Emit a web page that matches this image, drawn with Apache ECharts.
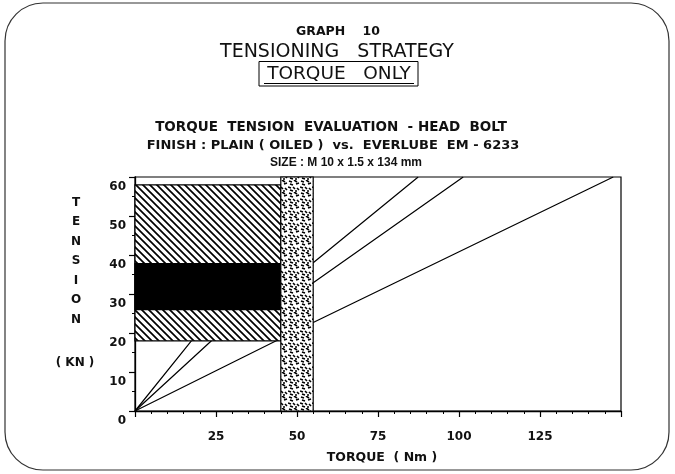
<!DOCTYPE html>
<html>
<head>
<meta charset="utf-8">
<script src="https://cdn.jsdelivr.net/npm/echarts@6/dist/echarts.min.js"></script>
<style>html,body{margin:0;padding:0;background:#fff}#c{width:675px;height:474px}</style>
</head>
<body>
<div id="c"></div>
<script>
// ---- data ----
var xTicks = [25, 50, 75, 100, 125];
var yTicks = [0, 10, 20, 30, 40, 50, 60];
// lines: torque (Nm), tension (kN)
var lineA = [[0, 0], [17.4, 18], [55, 38.0], [87.4, 60]];
var lineB = [[0, 0], [23.6, 18], [55, 32.9], [101.3, 60]];
var lineC = [[0, 0], [43.6, 18], [55, 22.7], [147.6, 60]];
// regions: [torqueFrom, tensionFrom, torqueTo, tensionTo]
var hatchRegion = [0, 18, 45, 58];
var blackBand = [0, 26, 45, 37.8];
var speckleBand = [45, 0, 55, 60];

// ---- patterns (styling only) ----
function hatchPattern() {
  var c = document.createElement('canvas');
  c.width = 7; c.height = 7;
  var g = c.getContext('2d');
  g.fillStyle = '#fff'; g.fillRect(0, 0, 7, 7);
  g.strokeStyle = '#000'; g.lineWidth = 1.7;
  g.beginPath();
  g.moveTo(-2, -2); g.lineTo(9, 9);
  g.moveTo(-2, 5); g.lineTo(2, 9);
  g.moveTo(5, -2); g.lineTo(9, 2);
  g.stroke();
  return c;
}
function specklePattern() {
  var c = document.createElement('canvas');
  c.width = 12; c.height = 12;
  var g = c.getContext('2d');
  g.fillStyle = '#fff'; g.fillRect(0, 0, 12, 12);
  g.strokeStyle = '#000'; g.lineWidth = 1.6;
  var marks = [[1,1,4,2],[6,0,9,2],[2,4,5,5],[8,4,11,3],[0,7,3,8],[5,7,7,9],[9,8,11,10],[2,10,5,11],[7,11,9,11]];
  g.beginPath();
  marks.forEach(function (m) { g.moveTo(m[0], m[1]); g.lineTo(m[2], m[3]); });
  g.stroke();
  return c;
}
var hatchFill = { image: hatchPattern(), repeat: 'repeat' };
var speckleFill = { image: specklePattern(), repeat: 'repeat' };

function rectSeries(region, fill, stroke, z) {
  return {
    type: 'custom', z: z, silent: true,
    data: [region],
    renderItem: function (params, api) {
      var p0 = api.coord([api.value(0), api.value(1)]);
      var p1 = api.coord([api.value(2), api.value(3)]);
      return {
        type: 'rect',
        shape: { x: Math.min(p0[0], p1[0]), y: Math.min(p0[1], p1[1]), width: Math.abs(p1[0] - p0[0]), height: Math.abs(p1[1] - p0[1]) },
        style: { fill: fill, stroke: stroke, lineWidth: 1.2 }
      };
    }
  };
}
function lineSeries(d) {
  return { type: 'line', data: d, symbol: 'none', z: 1, silent: true,
    lineStyle: { color: '#000', width: 1.2 } };
}

var font = '"DejaVu Sans", Arial, sans-serif';
var arial = 'Arial, "Liberation Sans", sans-serif';
var chart = echarts.init(document.getElementById('c'), null, { renderer: 'canvas' });
chart.setOption({
  animation: false,
  backgroundColor: '#fff',
  grid: { left: 135, right: 54, top: 177, bottom: 63, show: true, borderColor: '#000', borderWidth: 1.2 },
  xAxis: {
    type: 'value', min: 0, max: 150, interval: 25,
    name: 'TORQUE  ( Nm )', nameLocation: 'middle', nameGap: 40,
    nameTextStyle: { fontFamily: font, fontSize: 12.5, fontWeight: 'bold', color: '#111', padding: [0, 0, 0, 8] },
    axisLine: { lineStyle: { color: '#000', width: 1.3 } },
    axisTick: { length: 6, lineStyle: { color: '#000', width: 1.2 } },
    minorTick: { show: true, splitNumber: 5, length: 3, lineStyle: { color: '#000', width: 1 } },
    splitLine: { show: false },
    axisLabel: { margin: 20, fontFamily: font, fontSize: 12, fontWeight: 'bold', color: '#111',
      formatter: function (v) { return xTicks.indexOf(v) >= 0 ? String(v) : ''; } }
  },
  yAxis: {
    type: 'value', min: 0, max: 60, interval: 10,
    axisLine: { show: true, lineStyle: { color: '#000', width: 1.3 } },
    axisTick: { show: true, length: 6, lineStyle: { color: '#000', width: 1.2 } },
    minorTick: { show: true, splitNumber: 2, length: 3, lineStyle: { color: '#000', width: 1 } },
    splitLine: { show: false },
    axisLabel: { margin: 9, verticalAlign: 'top', padding: [4, 0, 0, 0], fontFamily: font, fontSize: 12, fontWeight: 'bold', color: '#111',
      formatter: function (v) { return yTicks.indexOf(v) >= 0 ? String(v) : ''; } }
  },
  series: [
    lineSeries(lineA), lineSeries(lineB), lineSeries(lineC),
    rectSeries(hatchRegion, hatchFill, '#000', 3),
    rectSeries(blackBand, '#000', '#000', 4),
    rectSeries(speckleBand, speckleFill, '#000', 5)
  ],
  graphic: [
    { type: 'rect', shape: { x: 5, y: 3, width: 664, height: 467, r: 38 }, style: { fill: 'none', stroke: '#333', lineWidth: 1.2 }, silent: true },
    { type: 'text', x: 338, y: 32, style: { text: 'GRAPH    10', font: 'bold 12.5px ' + font, fill: '#111', align: 'center', verticalAlign: 'middle' } },
    { type: 'text', x: 337, y: 52, style: { text: 'TENSIONING   STRATEGY', font: '19px ' + font, fill: '#111', align: 'center', verticalAlign: 'middle' } },
    { type: 'rect', shape: { x: 259, y: 61.5, width: 159, height: 24.5 }, style: { fill: 'none', stroke: '#000', lineWidth: 1 } },
    { type: 'text', x: 339, y: 74, style: { text: 'TORQUE   ONLY', font: '18.5px ' + font, fill: '#111', align: 'center', verticalAlign: 'middle' } },
    { type: 'line', shape: { x1: 264, y1: 83.5, x2: 414, y2: 83.5 }, style: { stroke: '#000', lineWidth: 1 } },
    { type: 'text', x: 331, y: 127, style: { text: 'TORQUE  TENSION  EVALUATION  - HEAD  BOLT', font: 'bold 13.5px ' + font, fill: '#111', align: 'center', verticalAlign: 'middle' } },
    { type: 'text', x: 333, y: 146, style: { text: 'FINISH : PLAIN ( OILED )  vs.  EVERLUBE  EM - 6233', font: 'bold 13px ' + font, fill: '#111', align: 'center', verticalAlign: 'middle' } },
    { type: 'text', x: 346, y: 163, style: { text: 'SIZE : M 10 x 1.5 x 134 mm', font: 'bold 12px ' + arial, fill: '#111', align: 'center', verticalAlign: 'middle' } },
    { type: 'text', x: 76, y: 193, style: { text: 'T\nE\nN\nS\nI\nO\nN', font: 'bold 12px ' + font, fill: '#111', align: 'center', verticalAlign: 'top', lineHeight: 19.5 } },
    { type: 'text', x: 75, y: 363, style: { text: '( KN )', font: 'bold 12px ' + font, fill: '#111', align: 'center', verticalAlign: 'middle' } }
  ]
});
</script>
</body>
</html>
